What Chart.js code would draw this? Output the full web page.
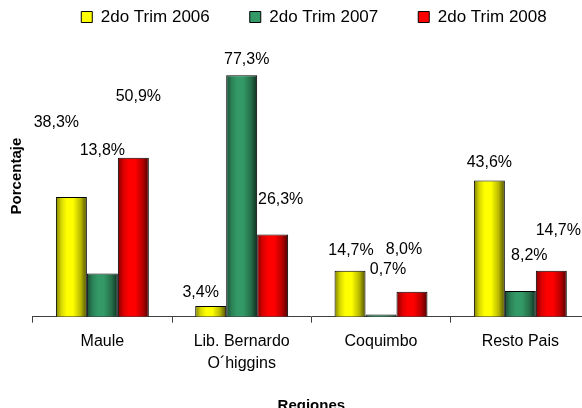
<!DOCTYPE html>
<html><head><meta charset="utf-8">
<script src="https://cdn.jsdelivr.net/npm/chart.js@4/dist/chart.umd.min.js"></script>
<style>html,body{margin:0;padding:0;overflow:hidden;background:#fff}#wrap{width:628px;height:408px}</style>
</head><body><div id="wrap"><canvas id="c" width="628" height="408"></canvas></div>
<script>
// ---- data ----
const categories = ['Maule', ['Lib. Bernardo', 'O´higgins'], 'Coquimbo', 'Resto Pais'];
const seriesNames = ['2do Trim 2006', '2do Trim 2007', '2do Trim 2008'];
const trim2006 = [38.3, 3.4, 14.7, 43.6];
const trim2007 = [13.8, 77.3, 0.7, 8.2];
const trim2008 = [50.9, 26.3, 8.0, 14.7];
const yMin = 0, yMax = 90;

// ---- label nudges (pixels, relative to bar top centre) ----
const nudge2006 = [[-15, -74], [-10, -13], [1, -20], [0, -18]];
const nudge2007 = [[0, -123], [5, -16], [7, -45], [9, -35]];
const nudge2008 = [[5, -61], [8, -35], [-8, -42], [7, -40]];

const colors = ['#FFFF00', '#339966', '#FF0000'];
const FONT = 'Liberation Sans';

function rgbScaled(hex, f) {
  const n = parseInt(hex.slice(1), 16);
  const r = Math.round(((n >> 16) & 255) * f), g = Math.round(((n >> 8) & 255) * f), b = Math.round((n & 255) * f);
  return `rgb(${r},${g},${b})`;
}

const shadePlugin = {
  id: 'shade',
  beforeDatasetsDraw(chart) {
    const ctx = chart.ctx;
    chart.data.datasets.forEach((ds, i) => {
      const base = ds.backgroundColor;
      chart.getDatasetMeta(i).data.forEach(el => {
        const l = el.x - el.width / 2, r = el.x + el.width / 2;
        const g = ctx.createLinearGradient(l, 0, r, 0);
        g.addColorStop(0, rgbScaled(base, 0.5));
        g.addColorStop(0.18, rgbScaled(base, 0.85));
        g.addColorStop(0.35, rgbScaled(base, 1));
        g.addColorStop(0.55, rgbScaled(base, 1));
        g.addColorStop(0.8, rgbScaled(base, 0.72));
        g.addColorStop(1, rgbScaled(base, 0.3));
        el.options = Object.assign({}, el.options, { backgroundColor: g });
      });
    });
  }
};

const labelPlugin = {
  id: 'valLabels',
  afterDatasetsDraw(chart) {
    const ctx = chart.ctx;
    ctx.save();
    ctx.font = `16px "${FONT}"`;
    ctx.fillStyle = '#000';
    ctx.textAlign = 'center';
    ctx.textBaseline = 'middle';
    chart.data.datasets.forEach((ds, i) => {
      chart.getDatasetMeta(i).data.forEach((el, j) => {
        const v = ds.data[j];
        const [dx, dy] = ds.nudges[j];
        ctx.fillText(v.toFixed(1).replace('.', ',') + '%', el.x + dx, el.y + dy);
      });
    });
    ctx.restore();
  }
};

Chart.defaults.font.family = FONT;
Chart.defaults.color = '#000';

new Chart(document.getElementById('c'), {
  type: 'bar',
  data: {
    labels: categories,
    datasets: [
      { label: seriesNames[0], data: trim2006, nudges: nudge2006, backgroundColor: colors[0] },
      { label: seriesNames[1], data: trim2007, nudges: nudge2007, backgroundColor: colors[1] },
      { label: seriesNames[2], data: trim2008, nudges: nudge2008, backgroundColor: colors[2] }
    ].map(d => Object.assign(d, { borderColor: '#000', borderWidth: 1, borderSkipped: 'bottom', categoryPercentage: 0.667, barPercentage: 1 }))
  },
  options: {
    responsive: false,
    animation: false,
    devicePixelRatio: 1,
    layout: { padding: { top: -31.5, left: 0, right: 0, bottom: -3 } },
    plugins: {
      legend: {
        position: 'top',
        labels: { font: { size: 17, family: FONT }, boxWidth: 11, boxHeight: 11, padding: 40, color: '#000' }
      },
      tooltip: { enabled: false }
    },
    scales: {
      x: {
        offset: true,
        grid: { display: true, drawOnChartArea: false, drawTicks: true, tickLength: 6, color: '#404040', offset: true },
        border: { display: true, color: '#404040' },
        ticks: { font: { size: 16, lineHeight: 1.35 }, padding: 8, maxRotation: 0, autoSkip: false, color: '#000' },
        title: { display: true, text: 'Regiones', font: { size: 15, weight: 'bold' }, padding: { top: 0, bottom: -4 }, color: '#000' },
        afterFit(s) { s.height = 94.3; }
      },
      y: {
        min: yMin, max: yMax,
        grid: { display: false },
        border: { display: false },
        ticks: { display: false },
        title: { display: true, text: 'Porcentaje', font: { size: 15, weight: 'bold' }, padding: { top: 8.3, bottom: 0 }, color: '#000' },
        afterFit(s) { s.width = 32.7; }
      },
      y2: {
        position: 'right', display: true,
        grid: { display: false }, border: { display: false }, ticks: { display: false },
        afterFit(s) { s.width = 38; }
      }
    }
  },
  plugins: [shadePlugin, labelPlugin]
});
</script></body></html>
